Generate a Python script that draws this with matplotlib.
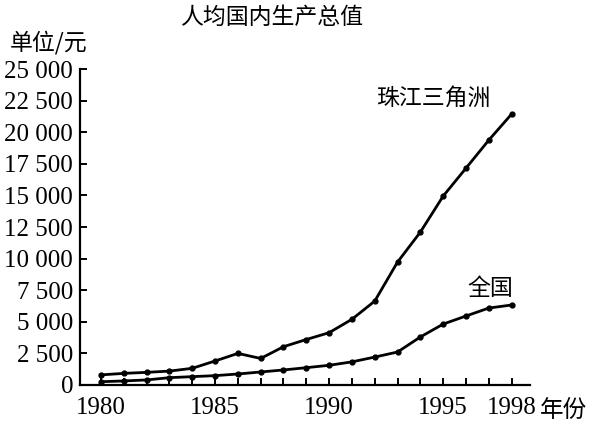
import numpy as np
import matplotlib
matplotlib.use('Agg')
import matplotlib.pyplot as plt

plt.rcParams['font.family'] = 'serif'
plt.rcParams['font.serif'] = ['Liberation Serif', 'DejaVu Serif']

years = np.arange(1980, 1999)
pearl = [800, 920, 1000, 1100, 1320, 1900, 2500, 2100, 3030, 3600,
         4140, 5200, 6640, 9730, 12100, 14950, 17160, 19380, 21440]
nation = [260, 320, 400, 580, 660, 740, 870, 1030, 1190, 1370,
          1560, 1830, 2210, 2610, 3800, 4820, 5460, 6090, 6330]
yticks = np.arange(0, 25001, 2500)
xlabels = [1980, 1985, 1990, 1995, 1998]

fig = plt.figure(figsize=(5.95, 4.24), dpi=100)
ax = fig.add_axes([0.1345, 0.092, 0.756, 0.745])

ax.plot(years, pearl, color='black', lw=2, marker='o', ms=3.5)
ax.plot(years, nation, color='black', lw=2, marker='o', ms=3.5)

ax.set_xlim(1979.08, 1998.8)
ax.set_ylim(0, 25000)
ax.spines['top'].set_visible(False)
ax.spines['right'].set_visible(False)
ax.spines['left'].set_linewidth(1.6)
ax.spines['bottom'].set_linewidth(1.6)

ax.set_yticks(yticks)
ax.set_yticklabels([f'{v:,}'.replace(',', ' ') for v in yticks])
ax.set_xticks(years)
ax.set_xticklabels([str(y) if y in xlabels else '' for y in years])
ax.tick_params(direction='in', length=5, width=1.4, labelsize=18)
ax.tick_params(axis='y', pad=5)
ax.tick_params(axis='x', pad=9)

cjk = ['Noto Sans CJK SC']
fig.text(0.457, 0.96, '人均国内生产总值', ha='center', va='center', fontsize=16.5, family=cjk)
fig.text(0.017, 0.9, '单位/元', ha='left', va='center', fontsize=16.5, family=cjk)
fig.text(0.907, 0.033, '年份', ha='left', va='center', fontsize=17, family=cjk)
ax.text(1994.57, 22700, '珠江三角洲', ha='center', va='center', fontsize=16.5, family=cjk)
ax.text(1997.05, 7670, '全国', ha='center', va='center', fontsize=16.5, family=cjk)

fig.savefig('out.png', dpi=100)
